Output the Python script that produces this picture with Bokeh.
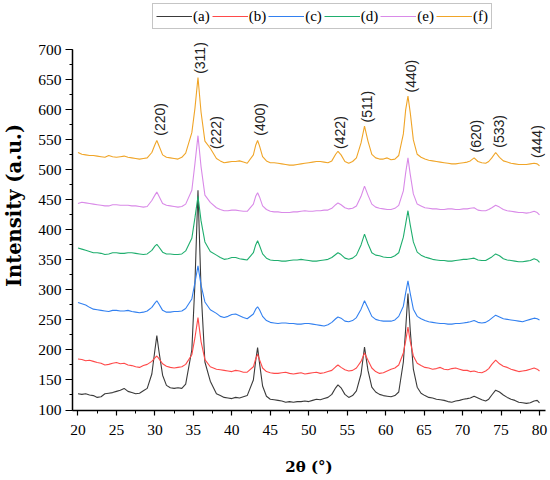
import math
from bokeh.plotting import figure
from bokeh.models import Title, SingleIntervalTicker
from bokeh.core.properties import value
from bokeh.embed import file_html
from bokeh.resources import INLINE

# 2-theta grid (degrees)
two_theta = [20, 20.5, 21, 21.5, 22, 22.5, 23, 23.5, 24, 24.5, 25, 25.5, 26, 26.5, 27, 27.5, 28, 28.5, 29,
             29.6, 30.0, 30.25, 30.5, 31.0,
             31.5, 32, 32.5, 33, 33.5, 34,
             34.8, 35.2, 35.6, 36.0, 36.5, 37.2,
             38, 38.5, 39, 39.5, 40, 40.5, 41, 41.5, 42,
             42.8, 43.1, 43.35, 43.6, 44.0,
             44.5, 45, 45.5, 46, 46.5, 47, 47.5, 48, 48.5, 49, 49.5, 50, 50.5, 51, 51.5, 52, 52.5, 53,
             53.5, 53.8, 54.2,
             54.7, 55.2, 55.7, 56.2,
             56.8, 57.25, 57.7, 58.2,
             58.7, 59.2, 59.7, 60.2, 60.7, 61.2, 61.7,
             62.3, 62.6, 62.9, 63.2, 63.6, 64.1,
             64.6, 65.1, 65.6, 66.1, 66.6, 67.1, 67.6, 68.1, 68.6, 69.1, 69.6, 70.1, 70.6,
             71.0, 71.5, 72.0,
             72.5, 73.0, 73.4,
             73.8, 74.3, 74.8, 75.3,
             75.8, 76.3, 76.8, 77.3, 77.8, 78.3, 78.8, 79.3, 79.7, 80]

series_a = [127,126,127,125,124,121,122,127,128,129,131,133,136,131,129,127,128,132,136,
            160,200,224,200,158,
            141,137,136,137,136,143,
            200,310,466,300,180,148,
            127,124,121,120,119,121,120,122,124,
            150,182,204,178,140,
            123,118,117,116,115,113,114,113,114,114,115,114,116,118,117,119,121,126,
            137,142,137,
            126,121,124,132,
            160,205,166,138,
            130,126,124,123,122,124,130,
            180,235,294,232,168,138,
            128,124,121,120,118,117,116,114,113,115,116,118,119,
            120,123,120,
            117,115,118,
            125,133,130,125,
            121,118,116,113,112,111,112,115,116,112]

series_b = [185,184,182,183,181,179,178,175,176,178,179,177,178,175,174,172,171,174,176,
            181,187,190,186,177,
            173,171,170,171,172,176,
            192,220,254,214,184,172,
            168,167,166,165,164,166,165,163,163,
            172,185,193,184,170,
            164,162,161,161,162,163,161,160,161,162,160,161,162,163,161,162,164,166,
            172,175,171,
            167,165,166,170,
            181,195,183,170,
            164,161,162,165,168,170,175,
            195,215,238,214,190,178,
            174,171,170,168,169,171,168,167,169,170,168,166,166,
            164,165,163,
            162,165,169,
            176,183,177,173,
            171,168,166,164,165,166,168,170,168,165]

series_c = [279,277,275,271,268,267,266,265,264,266,266,265,265,266,264,263,262,263,265,
            271,278,282,277,266,
            263,263,264,264,265,269,
            285,312,340,308,280,267,
            261,256,254,256,259,260,257,254,252,
            260,268,272,267,256,
            249,246,245,244,245,245,244,244,243,243,244,244,243,242,241,240,242,246,
            252,255,253,
            248,247,249,254,
            268,282,270,256,
            251,249,248,248,248,250,256,
            273,295,315,294,268,256,
            252,249,247,246,245,244,244,243,243,244,244,245,246,
            247,249,246,
            245,246,249,
            253,258,255,252,
            251,250,249,248,247,249,251,253,252,250]

series_d = [370,368,366,364,362,362,361,359,360,362,362,361,361,362,362,361,360,359,360,
            366,373,376,372,363,
            360,360,359,359,360,365,
            386,420,456,415,380,364,
            358,354,351,352,354,354,352,351,350,
            362,375,382,374,360,
            353,350,349,349,348,348,349,350,350,351,350,349,348,348,349,350,351,354,
            359,362,359,
            353,351,353,358,
            375,393,377,362,
            358,357,355,354,354,357,362,
            388,410,432,408,380,363,
            358,355,353,351,350,349,349,348,348,349,350,351,351,
            352,353,350,
            349,349,352,
            355,360,357,352,
            350,349,348,347,347,348,349,352,350,346]

series_e = [444,446,445,444,443,442,441,440,440,442,442,441,441,441,440,440,439,438,439,
            449,458,463,457,444,
            441,440,439,438,439,443,
            466,510,557,505,458,446,
            437,434,432,432,433,433,432,431,431,
            443,456,462,455,440,
            434,431,430,430,429,429,429,430,430,431,432,431,431,432,432,433,433,436,
            442,445,442,
            437,435,436,440,
            456,473,458,443,
            438,436,435,434,434,436,441,
            465,495,520,492,460,443,
            440,437,436,435,435,434,434,435,435,434,434,435,435,
            436,437,433,
            432,432,434,
            437,441,438,434,
            432,431,430,429,429,428,429,431,429,425]

series_f = [529,526,525,524,524,523,522,521,524,522,521,522,523,521,520,519,518,519,520,
            529,542,549,541,525,
            521,520,519,518,521,528,
            562,602,654,596,548,536,
            519,515,512,513,514,514,515,513,511,
            525,541,549,540,522,
            515,512,512,511,510,509,508,508,509,510,511,512,513,514,514,513,512,515,
            526,531,525,
            514,511,514,520,
            545,573,548,526,
            520,518,518,520,517,518,524,
            560,600,623,595,550,526,
            521,518,516,515,514,513,512,511,510,510,511,512,513,
            515,520,514,
            512,511,514,
            520,529,521,515,
            513,511,510,509,509,509,510,511,510,507]

series_names = ["(a)", "(b)", "(c)", "(d)", "(e)", "(f)"]
series_colors = ["#3a3a3a", "#ff4a4a", "#3280f0", "#1fae6e", "#d98ae8", "#f0a528"]

peak_labels = ["(220)", "(311)", "(222)", "(400)", "(422)", "(511)", "(440)", "(620)", "(533)", "(444)"]
peak_label_x = [30.6, 35.8, 37.9, 43.6, 54.0, 57.6, 63.3, 71.8, 74.7, 79.7]
peak_label_y = [557, 660, 535, 557, 535, 579, 629, 529, 537, 520]

x_title = "2θ (°)"
y_title = "Intensity (a.u.)"

p = figure(width=550, height=480, x_range=(19.286, 80.78), y_range=(99.17, 782.2),
           output_backend="svg", toolbar_location=None,
           min_border_left=71, min_border_right=5, min_border_top=0, min_border_bottom=70)
p.outline_line_color = None
p.xgrid.visible = False
p.ygrid.visible = False
p.background_fill_color = "white"
p.border_fill_color = "white"

p.xaxis.ticker = SingleIntervalTicker(interval=5, num_minor_ticks=2)
p.yaxis.ticker = SingleIntervalTicker(interval=50, num_minor_ticks=2)
p.yaxis.bounds = (100, 700)
for ax in (p.xaxis, p.yaxis):
    ax.axis_line_color = "black"
    ax.axis_line_width = 1.5
    ax.major_tick_line_color = "black"
    ax.minor_tick_line_color = "black"
    ax.major_tick_line_width = 1.2
    ax.minor_tick_line_width = 1.0
    ax.major_tick_in = 0
    ax.minor_tick_in = 0
    ax.minor_tick_out = 3
    ax.major_label_text_font = "Liberation Serif"
    ax.major_label_text_font_size = "15.5px"
    ax.major_label_text_color = "black"
p.xaxis.major_tick_out = 5
p.xaxis.major_label_standoff = 9
p.yaxis.major_tick_out = 7
p.yaxis.major_label_standoff = 4
# tiny blank axis label: only reserves a few pixels between tick labels and the title
p.yaxis.axis_label = " "
p.yaxis.axis_label_text_font_size = "1px"
p.yaxis.axis_label_standoff = 6

p.xaxis.axis_label = x_title
p.xaxis.axis_label_text_font = "DejaVu Serif"
p.xaxis.axis_label_text_font_style = "bold"
p.xaxis.axis_label_text_font_size = "15px"
p.xaxis.axis_label_text_color = "black"
p.xaxis.axis_label_standoff = 20

for ys, col, name in zip([series_a, series_b, series_c, series_d, series_e, series_f],
                         series_colors, series_names):
    p.line(two_theta, ys, line_color=col, line_width=1.1, legend_label=name)

p.text(x=peak_label_x, y=peak_label_y, text=peak_labels, angle=math.pi / 2,
       text_align="left", text_baseline="middle", text_font=value("Liberation Sans"),
       text_font_size="14px", text_color="#222222")

legend = p.legend[0]
legend.location = (80, 381)
legend.orientation = "horizontal"
legend.label_text_font = "Liberation Serif"
legend.label_text_font_size = "15px"
legend.label_text_color = "black"
legend.border_line_color = "#8c8c8c"
legend.border_line_width = 1.5
legend.background_fill_color = "white"
legend.background_fill_alpha = 1.0
legend.padding = 3
legend.spacing = 2
legend.margin = 0
legend.glyph_width = 36
legend.glyph_height = 18
legend.label_height = 18
legend.label_width = 0
legend.label_standoff = 1

p.add_layout(Title(text=y_title, align="center", offset=-53, standoff=0,
                   text_font="DejaVu Serif", text_font_style="bold", text_font_size="19.5px",
                   text_color="black"), "left")

open("out.html", "w").write(file_html(p, INLINE))
